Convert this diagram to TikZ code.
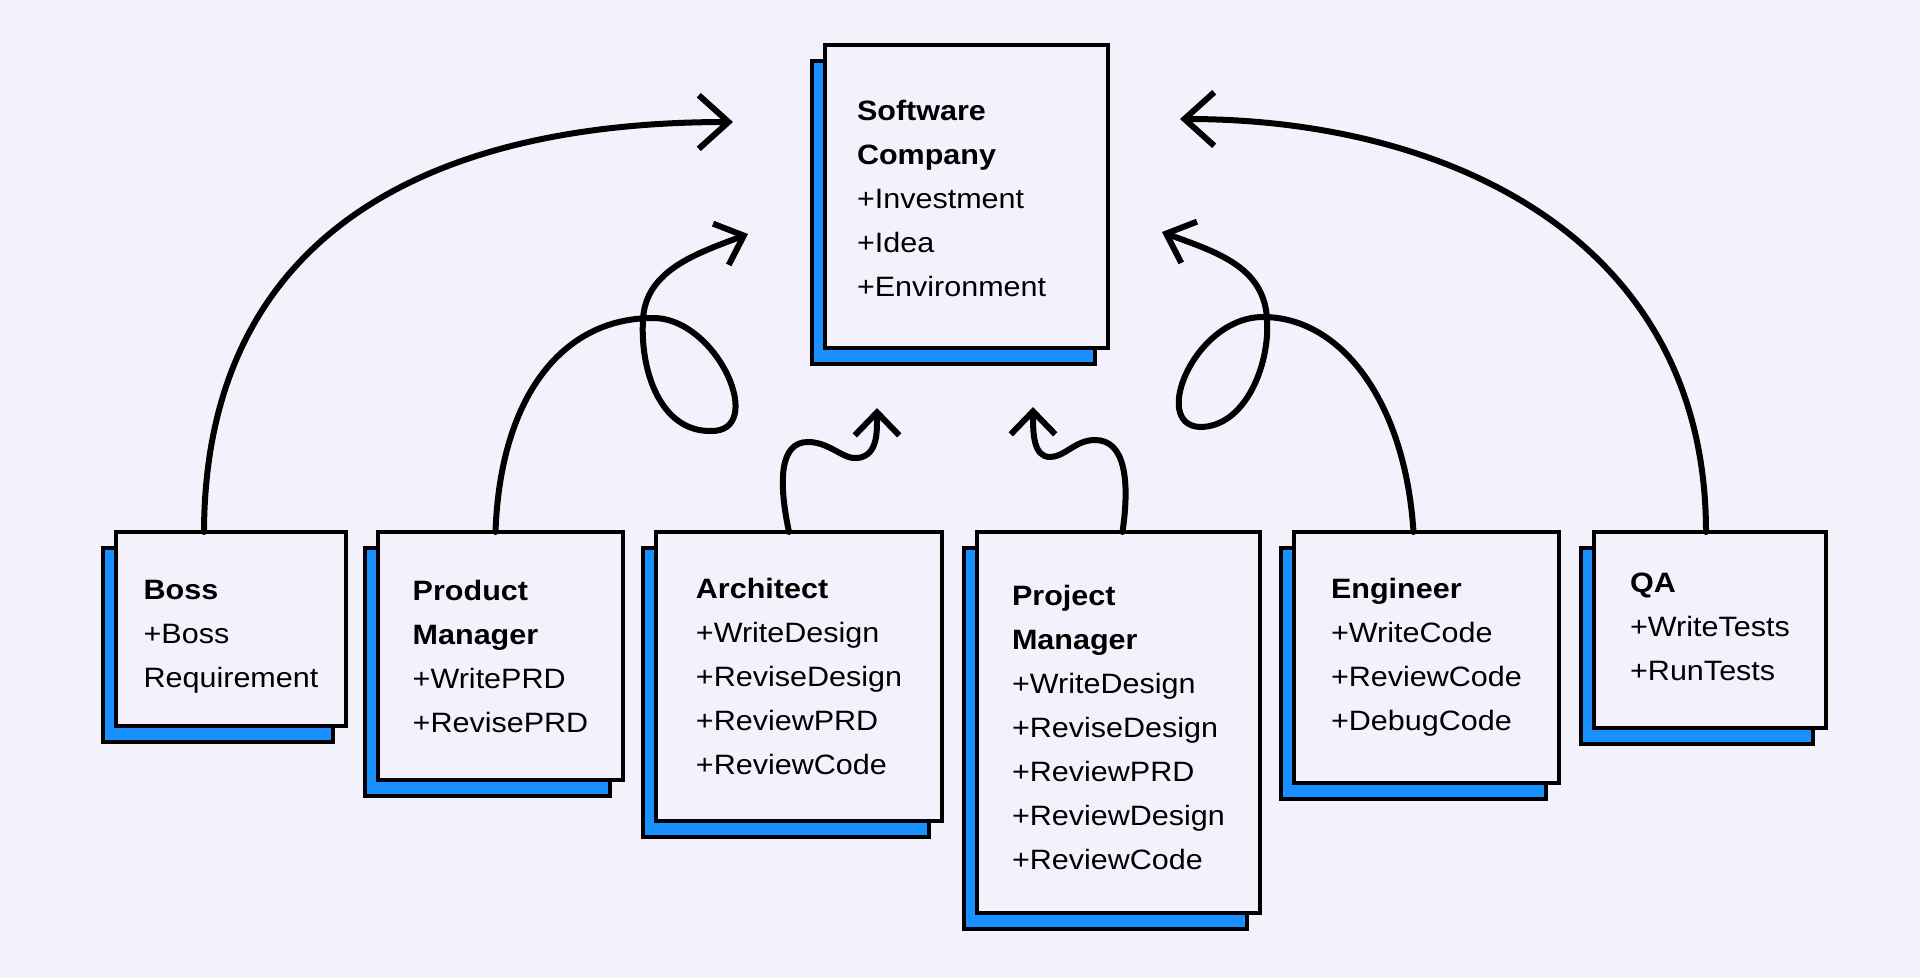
\documentclass[tikz,border=0pt]{standalone}
\usepackage{fontspec}
\setmainfont{Liberation Sans}[FakeStretch=1.09]
\usetikzlibrary{arrows.meta,shadows}

\definecolor{bgLila}{RGB}{243,242,252}
\definecolor{cardBlue}{RGB}{24,144,255}

\newlength\wSoft
\newlength\wBoss
\newlength\wProd
\newlength\wArch
\newlength\wProj
\newlength\wEng
\newlength\wQA
\setlength\wSoft{283pt}
\setlength\wBoss{230pt}
\setlength\wProd{245pt}
\setlength\wArch{286pt}
\setlength\wProj{283pt}
\setlength\wEng{265pt}
\setlength\wQA{232pt}

\tikzset{
	card/.style={draw, line width=3.3pt, fill=bgLila, anchor=north west, align=left,
		outer sep=0pt, inner sep=0pt, font=\fontsize{28}{44}\selectfont,
		general shadow={fill=cardBlue, draw=black, line width=3.3pt,
			shadow xshift=-13pt, shadow yshift=-16pt}},
	flow/.style={line width=6pt, line cap=round, -{Straight Barb[angle=#1]}},
	flow/.default={84:40pt}
}

\begin{document}
\begin{tikzpicture}[x=1pt, y=-1pt]

	\fill[bgLila] (0,0) rectangle (1920,978);

	\node[card, minimum width = \wSoft, minimum height = 303pt, text width = 219pt, inner xsep = 32pt] at (825,45) (SC) {\rule{0pt}{25pt}\textbf{Software}\\\textbf{Company}\\+Investment\\+Idea\\+Environment};

	\node[card, minimum width = \wBoss, minimum height = 194pt] at (116,532) (Boss) {\rule{0pt}{34pt}\textbf{Boss}\\+Boss\\Requirement};
	\node[card, minimum width = \wProd, minimum height = 248pt] at ([xshift=32pt]Boss.north east) (Prod) {\textbf{Product}\\\textbf{Manager}\\+WritePRD\\+RevisePRD};
	\node[card, minimum width = \wArch, minimum height = 289pt] at ([xshift=33pt]Prod.north east) (Arch) {\textbf{Architect}\\+WriteDesign\\+ReviseDesign\\+ReviewPRD\\+ReviewCode};
	\node[card, minimum width = \wProj, minimum height = 381pt] at ([xshift=35pt]Arch.north east) (Proj) {\rule{0pt}{31pt}\textbf{Project}\\\textbf{Manager}\\+WriteDesign\\+ReviseDesign\\+ReviewPRD\\+ReviewDesign\\+ReviewCode};
	\node[card, minimum width = \wEng, minimum height = 251pt] at ([xshift=34pt]Proj.north east) (Eng) {\textbf{Engineer}\\+WriteCode\\+ReviewCode\\+DebugCode};
	\node[card, minimum width = \wQA, minimum height = 196pt] at ([xshift=35pt]Eng.north east) (QA) {\textbf{QA}\\+WriteTests\\+RunTests\rule[-7pt]{0pt}{7pt}};

	% arrow ends round the company box
	\coordinate (tipBoss) at (733,122);
	\coordinate (tipProd) at (748,234);
	\coordinate (tipArch) at (877,408);
	\coordinate (tipProj) at (1033,407);
	\coordinate (tipEng) at (1162,232);
	\coordinate (tipQA) at (1180,119);

	\draw[flow] ([xshift=-27pt]Boss.north) .. controls (205,240) and (420,122) .. (tipBoss);
	\draw[flow={84:33pt}] ([xshift=-5pt]Prod.north) .. controls (500,400) and (560,318) .. (653,318) .. controls (718,318) and (768,433) .. (710,431) .. controls (660,431) and (640,370) .. (643,320) .. controls (645,270) and (698,253) .. (tipProd);
	\draw[flow={88:32pt}] ([xshift=-10pt]Arch.north) .. controls (778,480) and (780,442) .. (808,442) .. controls (830,442) and (843,460) .. (858,458) .. controls (878,455) and (877,432) .. (tipArch);
	\draw[flow={88:32pt}] ([xshift=4pt]Proj.north) .. controls (1130,480) and (1125,440) .. (1095,440) .. controls (1075,440) and (1065,457) .. (1050,457) .. controls (1033,457) and (1033,432) .. (tipProj);
	\draw[flow={84:33pt}] ([xshift=-13pt]Eng.north) .. controls (1405,400) and (1340,317) .. (1263,317) .. controls (1195,317) and (1150,425) .. (1200,427) .. controls (1245,427) and (1270,365) .. (1267,320) .. controls (1265,265) and (1212,251) .. (tipEng);
	\draw[flow] ([xshift=-4pt]QA.north) .. controls (1706,240) and (1450,119) .. (tipQA);

\end{tikzpicture}
\end{document}
